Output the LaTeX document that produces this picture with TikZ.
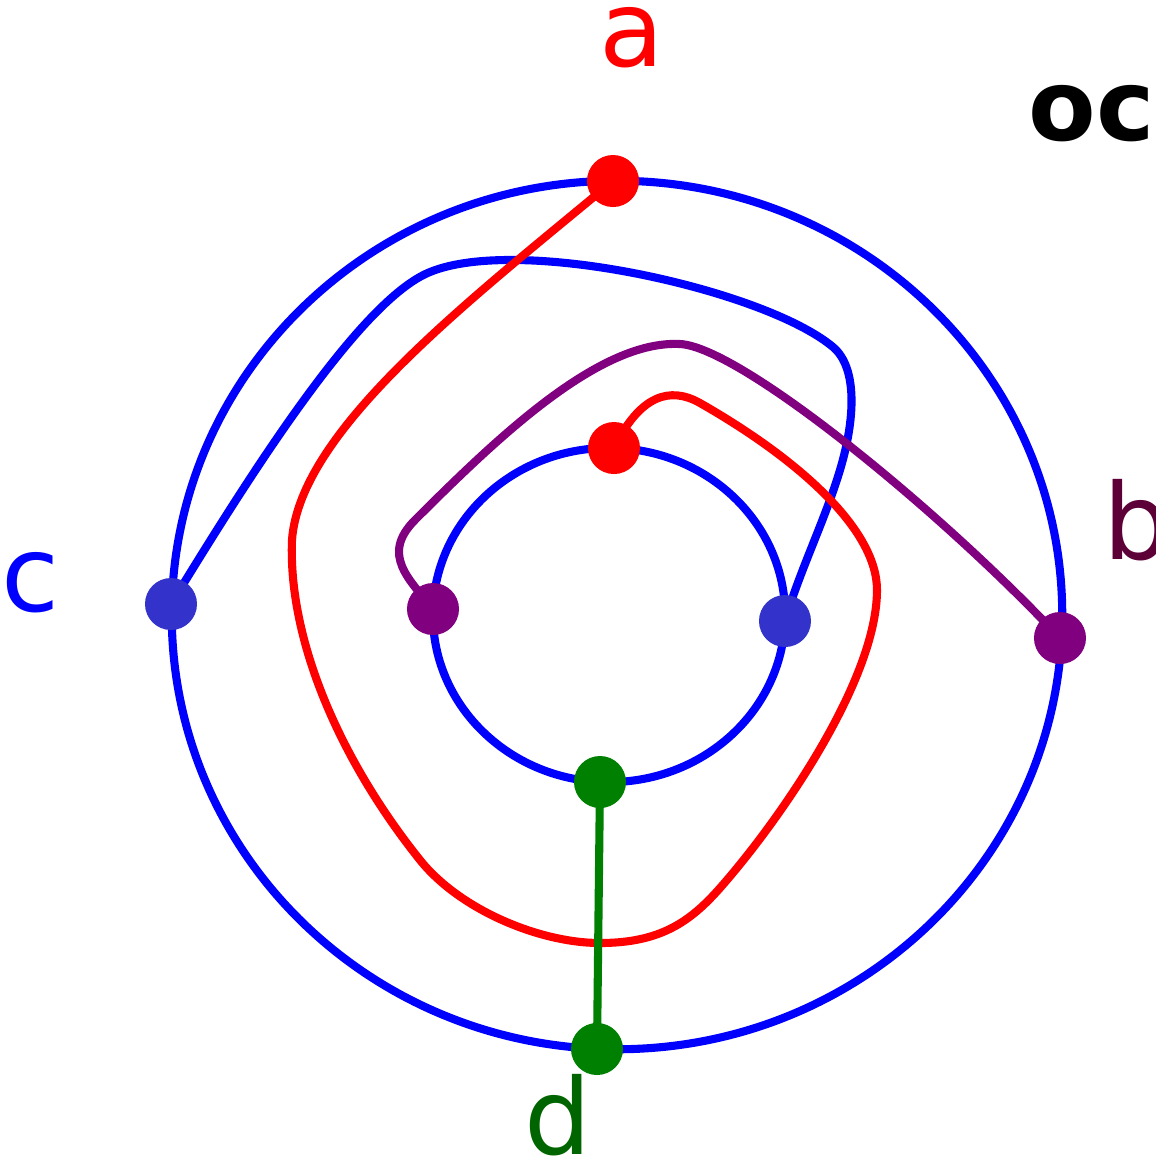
\documentclass[tikz,border=0pt]{standalone}
\usepackage{fontspec}
\setmainfont{DejaVu Sans}

\definecolor{dotblue}{RGB}{51,51,204}
\definecolor{plum}{RGB}{128,0,128}
\definecolor{plumdark}{RGB}{94,0,56}
\definecolor{leafgreen}{RGB}{0,128,0}
\definecolor{leafdark}{RGB}{0,100,0}

\tikzset{
  wire/.style={line width=2.3pt},
  tag/.style={inner sep=0pt, font=\fontsize{30}{36}\selectfont},
}

\begin{document}
\begin{tikzpicture}[x=0.01cm, y=-0.01cm]
  \useasboundingbox (0,0) rectangle (1156,1159);

  % Outer ring
  \coordinate (oz) at (617,615);
  \coordinate (oa) at (613,181);
  \coordinate (ob) at (1060,638);
  \coordinate (oc) at (171,604);
  \coordinate (od) at (597,1049);

  % Inner ring
  \coordinate (iz) at (609,615);
  \coordinate (ia) at (614,448);
  \coordinate (ib) at (433,609);
  \coordinate (ic) at (785,621);
  \coordinate (id) at (600,782);

  \draw[wire, blue] (oz) ellipse [x radius=4.45cm, y radius=4.34cm];
  \draw[wire, blue] (iz) ellipse [x radius=1.76cm, y radius=1.67cm];

  \draw[wire, blue] (oc) .. controls (250,475) and (360,300) .. (430,272)
    .. controls (520,235) and (765,290) .. (833,347)
    .. controls (858,368) and (855,420) .. (840,470)
    .. controls (825,520) and (800,570) .. (ic);

  \draw[wire, red] (oa) .. controls (470,300) and (300,430) .. (292,540)
    .. controls (288,640) and (340,760) .. (420,860)
    .. controls (460,910) and (540,943) .. (600,943)
    .. controls (660,943) and (690,922) .. (720,888)
    .. controls (780,820) and (877,680) .. (877,590)
    .. controls (877,530) and (800,460) .. (700,403)
    .. controls (670,386) and (640,395) .. (ia);

  \draw[wire, plum] (ib) .. controls (410,580) and (380,555) .. (415,520)
    .. controls (500,435) and (600,340) .. (680,344)
    .. controls (740,347) and (940,510) .. (ob);

  \draw[wire, leafgreen] (id) -- (od);

  % Dots
  \fill[red] (oa) circle [radius=0.26cm];
  \fill[red] (ia) circle [radius=0.26cm];
  \fill[plum] (ob) circle [radius=0.26cm];
  \fill[plum] (ib) circle [radius=0.26cm];
  \fill[dotblue] (oc) circle [radius=0.26cm];
  \fill[dotblue] (ic) circle [radius=0.26cm];
  \fill[leafgreen] (od) circle [radius=0.26cm];
  \fill[leafgreen] (id) circle [radius=0.26cm];

  % Labels
  \node[tag, red] (la) at (632,38) {a};
  \node[tag, plumdark] (lb) at (1137,520) {b};
  \node[tag, blue] (lc) at (31,583) {c};
  \node[tag, leafdark] (ld) at (558,1115) {d};
  \node[inner sep=0pt, anchor=base west, font=\bfseries\fontsize{28}{34}\selectfont] (title) at (1028,140) {oc};
\end{tikzpicture}
\end{document}
